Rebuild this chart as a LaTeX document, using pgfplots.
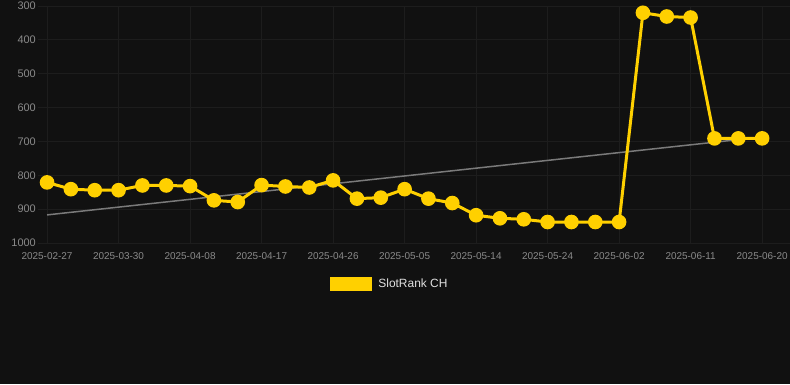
\documentclass[border=0pt]{standalone}
\usepackage{pgfplots}
\pgfplotsset{compat=1.18}
\usepackage{fontspec}
\setmainfont{Liberation Sans}
\definecolor{bg}{HTML}{111111}
\definecolor{gridc}{HTML}{1D1D1D}
\definecolor{tickc}{HTML}{8A8A8A}
\definecolor{yel}{HTML}{FFD000}
\definecolor{trend}{HTML}{7A7A7A}
\begin{document}
\begin{tikzpicture}[x=1bp,y=1bp]
\fill[bg] (0,0) rectangle (790,384);
\begin{axis}[
  at={(38bp,141bp)}, anchor=south west,
  scale only axis, width=752bp, height=237bp,
  xmin=-0.38, xmax=31.17,
  ymin=300, ymax=1000, y dir=reverse,
  xtick={0,3,6,9,12,15,18,21,24,27,30},
  xticklabels={2025-02-27,2025-03-30,2025-04-08,2025-04-17,2025-04-26,2025-05-05,2025-05-14,2025-05-24,2025-06-02,2025-06-11,2025-06-20},
  ytick={300,400,500,600,700,800,900,1000},
  grid=major, major grid style={gridc, line width=1bp},
  axis line style={draw=none}, major tick length=0pt,
  tick label style={text=tickc},
  xticklabel style={font=\fontsize{10}{11}\selectfont, anchor=north, inner sep=1bp, yshift=-8bp},
  yticklabel style={font=\fontsize{11}{12}\selectfont, anchor=east, inner sep=1bp, xshift=-1bp},
  /pgf/number format/assume math mode=true,
  /pgf/number format/1000 sep={},
  clip=false,
  legend style={at={(0.468,-0.173)}, anchor=center, draw=none, fill=none,
    text=white!88!black, font=\fontsize{12}{13}\selectfont,
    legend cell align=left, inner sep=0pt,
    /tikz/every odd column/.append style={column sep=4bp}},
  legend image code/.code={\fill[yel] (0bp,-5.5bp) rectangle (39bp,5.5bp);},
]
\addplot[trend, line width=1.5bp, forget plot] coordinates {(0,917) (30,687)};
\addplot[yel, line width=3bp, mark=*, mark size=5.8bp, mark options={fill=yel, draw=none}]
coordinates {
(0,821) (1,841) (2,844) (3,844) (4,830) (5,830) (6,832) (7,874) (8,879)
(9,829) (10,833) (11,836) (12,815) (13,869) (14,866) (15,841) (16,869)
(17,882) (18,918) (19,927) (20,930) (21,938) (22,938) (23,938) (24,938)
(25,320) (26,331) (27,334) (28,691) (29,691) (30,691)
};
\addlegendentry{SlotRank CH}
\end{axis}
\pgfresetboundingbox
\useasboundingbox (0,0) rectangle (790,384);
\end{tikzpicture}
\end{document}
